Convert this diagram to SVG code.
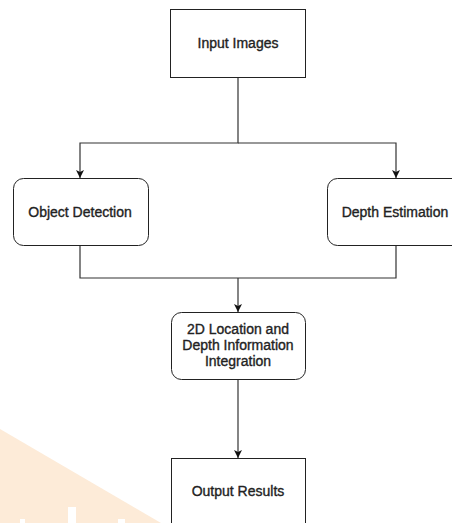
<svg xmlns="http://www.w3.org/2000/svg" width="452" height="523" viewBox="0 0 452 523">
<style>
.box{fill:#fff;stroke:#222;stroke-width:1}
.lbl{font-family:"Liberation Sans",Arial,sans-serif;font-size:14px;fill:#222;stroke:#222;stroke-width:0.35;text-anchor:middle}
.edge{fill:none;stroke:#333;stroke-width:1.2}
</style>
<defs>
<marker id="arr" viewBox="0 0 10 10" refX="10" refY="5" markerWidth="8" markerHeight="8" markerUnits="userSpaceOnUse" orient="auto">
<path d="M0,0 L10,5 L0,10 L2.5,5 Z" fill="#111"/>
</marker>
</defs>
<rect width="452" height="523" fill="#fff"/>
<g id="watermark">
<polygon points="0,429 161,523 0,523" fill="#fdebd8"/>
<rect x="68" y="507" width="8" height="16" fill="#fff"/>
<rect x="20" y="519" width="5" height="4" fill="#fff"/>
<rect x="118" y="519" width="7" height="4" fill="#fff"/>
</g>
<g id="connectors">
<path class="edge" d="M238,77 V143 H80 V178" marker-end="url(#arr)"/>
<path class="edge" d="M238,143 H396 V178" marker-end="url(#arr)"/>
<path class="edge" d="M80,245 V278 H396 V245"/>
<path class="edge" d="M238,278 V312" marker-end="url(#arr)"/>
<path class="edge" d="M238,380 V458" marker-end="url(#arr)"/>
</g>
<g id="input-images">
<rect class="box" x="170.5" y="9.5" width="135" height="68"/>
<text class="lbl" x="238" y="48">Input Images</text>
</g>
<g id="object-detection">
<rect class="box" x="13.5" y="178.5" width="135" height="67" rx="10"/>
<text class="lbl" x="80" y="217">Object Detection</text>
</g>
<g id="depth-estimation">
<rect class="box" x="327.5" y="178.5" width="135" height="67" rx="10"/>
<text class="lbl" x="395" y="217">Depth Estimation</text>
</g>
<g id="integration">
<rect class="box" x="171.5" y="312.5" width="134" height="67" rx="10"/>
<text class="lbl" x="238" y="334">2D Location and</text>
<text class="lbl" x="238" y="350">Depth Information</text>
<text class="lbl" x="238" y="366">Integration</text>
</g>
<g id="output-results">
<rect class="box" x="171.5" y="458.5" width="134" height="68"/>
<text class="lbl" x="238" y="496">Output Results</text>
</g>
</svg>
